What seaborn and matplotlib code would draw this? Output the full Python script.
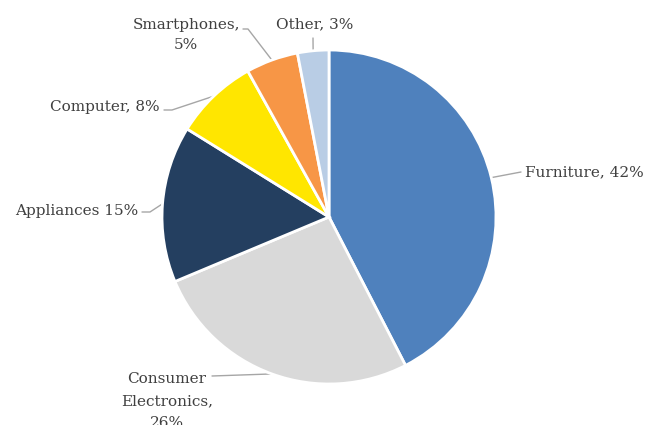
import numpy as np
import matplotlib
matplotlib.use("Agg")
import matplotlib.pyplot as plt
import seaborn as sns

sns.set_theme(style="white")
plt.rcParams["font.family"] = ["DejaVu Serif"]

categories = ["Furniture", "Consumer Electronics", "Appliances", "Computer", "Smartphones", "Other"]
shares = [42, 26, 15, 8, 5, 3]
labels = ["Furniture, 42%", "Consumer\nElectronics,\n26%", "Appliances 15%",
          "Computer, 8%", "Smartphones,\n5%", "Other, 3%"]
colors = ["#4f81bd", "#d9d9d9", "#243f60", "#ffe600", "#f79646", "#b9cde5"]

W, H = 657, 425
CX, CY, R = 329, 217, 167  # pie centre and radius in pixels


def to_data(px, py):
    return (px - CX) / R, (CY - py) / R


fig = plt.figure(figsize=(W / 100, H / 100), dpi=100)
ax = fig.add_axes([0, 0, 1, 1])
wedges, _ = ax.pie(shares, colors=colors, startangle=90, counterclock=False, radius=1,
                   wedgeprops=dict(edgecolor="white", linewidth=2))
ax.set_xlim(-CX / R, (W - CX) / R)
ax.set_ylim(-(H - CY) / R, CY / R)
ax.set_aspect("auto")
ax.axis("off")

# label placement: text anchor (px), alignment, line spacing, leader points near the text (px)
layout = [
    ((525, 172), "left", 1.2, [(521, 172)]),
    ((167, 401), "center", 1.72, [(212, 376)]),
    ((138, 211), "right", 1.2, [(142, 212), (150, 212)]),
    ((160, 107), "right", 1.2, [(164, 110), (172, 110)]),
    ((186, 35), "center", 1.55, [(243, 29), (248, 29)]),
    ((315, 24), "center", 1.2, [(313, 38)]),
]

for w, lab, (tpos, ha, ls, pts) in zip(wedges, labels, layout):
    mid = np.deg2rad((w.theta1 + w.theta2) / 2)
    anchor = (np.cos(mid), np.sin(mid))
    xs = [to_data(*p)[0] for p in pts] + [anchor[0]]
    ys = [to_data(*p)[1] for p in pts] + [anchor[1]]
    ax.plot(xs, ys, color="#a6a6a6", lw=1, clip_on=False, zorder=0)
    tx, ty = to_data(*tpos)
    ax.text(tx, ty, lab, ha=ha, va="center", fontsize=11, color="#404040",
            linespacing=ls, clip_on=False)

fig.savefig("out.png", dpi=100, facecolor="white")
